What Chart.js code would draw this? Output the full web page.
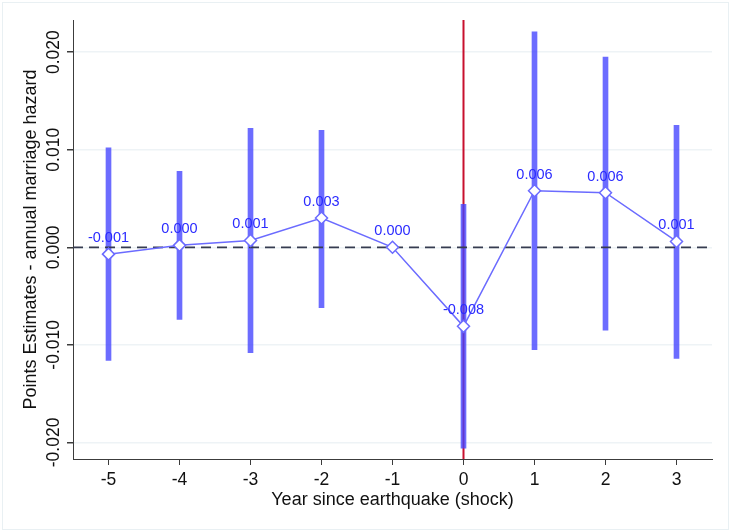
<!DOCTYPE html>
<html>
<head>
<meta charset="utf-8">
<script src="https://cdn.jsdelivr.net/npm/chart.js@4.4.1/dist/chart.umd.min.js"></script>
<style>
  html, body { margin: 0; padding: 0; background: #fff; }
  #wrap { position: relative; width: 730px; height: 531px; }
  #frame {
    position: absolute; left: 2px; top: 2px; width: 725px; height: 526px;
    border: 1px solid #e9f0f3; pointer-events: none;
  }
  canvas { position: absolute; left: 0; top: 0; }
</style>
</head>
<body>
<div id="wrap">
  <canvas id="chart" width="730" height="531"></canvas>
  <div id="frame"></div>
</div>
<script>
(function () {
  "use strict";

  // ── Data ─────────────────────────────────────────────────────────
  const years = [-5, -4, -3, -2, -1, 0, 1, 2, 3];
  const estimates = [-0.0007, 0.0002, 0.0007, 0.0030, 0.0000, -0.0081, 0.0058, 0.0056, 0.0006];
  const ciLow = [-0.0116, -0.0074, -0.0108, -0.0062, null, -0.0206, -0.0105, -0.0085, -0.0114];
  const ciHigh = [0.0102, 0.0078, 0.0122, 0.0120, null, 0.0044, 0.0221, 0.0195, 0.0125];
  const xTicks = [-5, -4, -3, -2, -1, 0, 1, 2, 3];
  const yTicks = [-0.02, -0.01, 0, 0.01, 0.02];

  const X_MIN = -5.5, X_MAX = 3.5;
  const Y_MIN = -0.0217, Y_MAX = 0.0233;
  const SHOCK_YEAR = 0;

  const COLORS = {
    ci: "rgba(66, 66, 255, 0.78)",
    line: "#6b6bff",
    label: "#2b2bff",
    zero: "#363c50",
    shock: "#c8102e",
    grid: "#eef3f6",
    axis: "#3c3c3c",
    text: "#111",
  };
  const FONT = "'Liberation Sans', Arial, sans-serif";

  // ── Plugins ──────────────────────────────────────────────────────

  // rotated y tick labels, like the Stata default
  const yTickLabels = {
    id: "yTickLabels",
    afterDraw: function (chart) {
      const ctx = chart.ctx;
      const y = chart.scales.y;
      ctx.save();
      ctx.font = "17.5px " + FONT;
      ctx.fillStyle = COLORS.text;
      ctx.textAlign = "center";
      ctx.textBaseline = "middle";
      yTicks.forEach(function (v) {
        ctx.save();
        ctx.translate(54, y.getPixelForValue(v));
        ctx.rotate(-Math.PI / 2);
        ctx.fillText(v.toFixed(3), 0, 0);
        ctx.restore();
      });
      ctx.restore();
    },
  };

  // value labels above the point estimates
  const pointLabels = {
    id: "pointLabels",
    afterDatasetsDraw: function (chart) {
      const ctx = chart.ctx;
      const meta = chart.getDatasetMeta(3);
      ctx.save();
      ctx.font = "14.5px " + FONT;
      ctx.fillStyle = COLORS.label;
      ctx.textAlign = "center";
      ctx.textBaseline = "middle";
      meta.data.forEach(function (pt, i) {
        ctx.fillText(estimates[i].toFixed(3), pt.x, pt.y - 16);
      });
      ctx.restore();
    },
  };

  // ── Chart ────────────────────────────────────────────────────────

  new Chart(document.getElementById("chart"), {
    type: "bar",
    data: {
      datasets: [
        {
          type: "line",
          label: "shock",
          data: [{ x: SHOCK_YEAR, y: Y_MIN }, { x: SHOCK_YEAR, y: Y_MAX }],
          borderColor: COLORS.shock,
          borderWidth: 2,
          pointRadius: 0,
          order: 5,
        },
        {
          type: "bar",
          label: "95% CI",
          data: years
            .map(function (yr, i) { return ciLow[i] === null ? null : { x: yr, y: [ciLow[i], ciHigh[i]] }; })
            .filter(function (d) { return d !== null; }),
          backgroundColor: COLORS.ci,
          borderWidth: 0,
          barThickness: 5,
          grouped: false,
          order: 4,
        },
        {
          type: "line",
          label: "zero",
          data: [{ x: X_MIN, y: 0 }, { x: X_MAX, y: 0 }],
          borderColor: COLORS.zero,
          borderWidth: 1.8,
          borderDash: [10, 6],
          pointRadius: 0,
          order: 3,
        },
        {
          type: "line",
          label: "Point estimate",
          data: years.map(function (yr, i) { return { x: yr, y: estimates[i] }; }),
          borderColor: COLORS.line,
          borderWidth: 1.5,
          pointStyle: "rectRot",
          pointRadius: 6,
          pointBackgroundColor: "#fff",
          pointBorderColor: COLORS.line,
          pointBorderWidth: 1.5,
          order: 1,
        },
      ],
    },
    options: {
      responsive: false,
      animation: false,
      events: [],
      layout: { padding: { left: 0, top: 20, right: 18, bottom: 0 } },
      plugins: {
        legend: { display: false },
        tooltip: { enabled: false },
      },
      scales: {
        x: {
          type: "linear",
          min: X_MIN,
          max: X_MAX,
          offset: false,
          afterBuildTicks: function (scale) {
            scale.ticks = xTicks.map(function (v) { return { value: v }; });
          },
          afterFit: function (scale) { scale.height = 72; },
          grid: { offset: false, drawOnChartArea: false, drawTicks: true, tickLength: 6, tickColor: COLORS.axis },
          border: { color: COLORS.axis, width: 1 },
          ticks: {
            color: COLORS.text,
            font: { family: FONT, size: 17.5 },
            padding: 5,
            maxRotation: 0,
            callback: function (v) { return String(v); },
          },
          title: {
            display: true,
            text: "Year since earthquake (shock)",
            color: COLORS.text,
            font: { family: FONT, size: 18 },
            padding: { top: 0, bottom: 20 },
          },
        },
        y: {
          type: "linear",
          min: Y_MIN,
          max: Y_MAX,
          afterBuildTicks: function (scale) {
            scale.ticks = yTicks.map(function (v) { return { value: v }; });
          },
          afterFit: function (scale) { scale.width = 73; },
          grid: { color: COLORS.grid, lineWidth: 1.5, drawTicks: true, tickLength: 6, tickColor: COLORS.axis },
          border: { color: COLORS.axis, width: 1 },
          ticks: { display: false },
          title: {
            display: true,
            text: "Points Estimates - annual marriage hazard",
            color: COLORS.text,
            font: { family: FONT, size: 18 },
            padding: { top: 20, bottom: 0 },
          },
        },
      },
    },
    plugins: [yTickLabels, pointLabels],
  });
})();
</script>
</body>
</html>
